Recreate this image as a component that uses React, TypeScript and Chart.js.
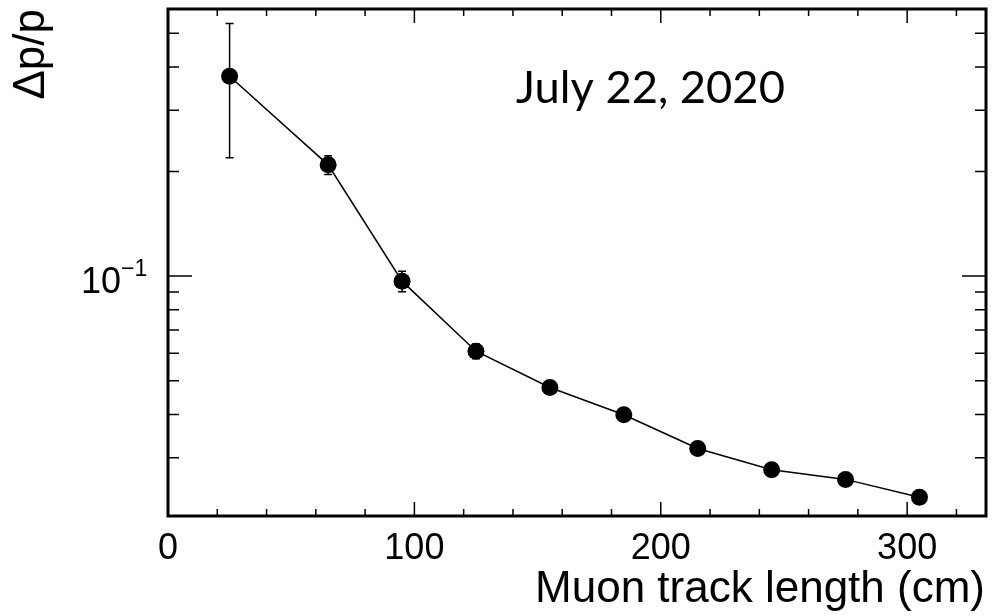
import React, { useEffect, useRef } from 'react';
import { Chart, registerables } from 'chart.js';

Chart.register(...registerables);

// ---- data ----
const trackLength = [25, 65, 95, 125, 155, 185, 215, 245, 275, 305];
const resolution = [0.376, 0.209, 0.0967, 0.0608, 0.0478, 0.0399, 0.0319, 0.0277, 0.026, 0.0231];
const resolutionErr = [0.157, 0.013, 0.0065, 0.003, 0.002, 0.0015, 0.001, 0.001, 0.001, 0.001];

const xMajorTicks = [0, 100, 200, 300];
const xMinorTicks = [20, 40, 60, 80, 120, 140, 160, 180, 220, 240, 260, 280, 320];
const yMajorTicks = [0.1];
const yMinorTicks = [0.03, 0.04, 0.05, 0.06, 0.07, 0.08, 0.09, 0.2, 0.3, 0.4, 0.5];
const xRange = [0, 332];
const yRange = [0.0204, 0.587];

const xTitle = 'Muon track length (cm)';
const yTitle = 'Δp/p';
const annotation = 'July 22, 2020';

const AXIS_FONT = '"Liberation Sans", Arial, Helvetica, sans-serif';

const errorBarPlugin = {
  id: 'errorBars',
  beforeDatasetsDraw(chart: any) {
    const { ctx, scales } = chart;
    const x = scales.x;
    const y = scales.y;
    ctx.save();
    ctx.strokeStyle = '#000';
    ctx.lineWidth = 1.5;
    trackLength.forEach((tx, i) => {
      const px = x.getPixelForValue(tx);
      const hi = y.getPixelForValue(resolution[i] + resolutionErr[i]);
      const lo = y.getPixelForValue(resolution[i] - resolutionErr[i]);
      ctx.beginPath();
      ctx.moveTo(px, hi);
      ctx.lineTo(px, lo);
      ctx.moveTo(px - 4, hi);
      ctx.lineTo(px + 4, hi);
      ctx.moveTo(px - 4, lo);
      ctx.lineTo(px + 4, lo);
      ctx.stroke();
    });
    ctx.restore();
  },
};

const framePlugin = {
  id: 'rootFrame',
  afterDraw(chart: any) {
    const { ctx, chartArea: a, scales } = chart;
    const x = scales.x;
    const y = scales.y;
    ctx.save();
    // ticks
    ctx.strokeStyle = '#000';
    ctx.lineWidth = 1.5;
    ctx.beginPath();
    const xt = (v: number, len: number) => {
      const px = x.getPixelForValue(v);
      ctx.moveTo(px, a.bottom);
      ctx.lineTo(px, a.bottom - len);
      ctx.moveTo(px, a.top);
      ctx.lineTo(px, a.top + len);
    };
    xMajorTicks.forEach((v) => xt(v, 14));
    xMinorTicks.forEach((v) => xt(v, 7));
    const yt = (v: number, len: number) => {
      const py = y.getPixelForValue(v);
      ctx.moveTo(a.left, py);
      ctx.lineTo(a.left + len, py);
      ctx.moveTo(a.right, py);
      ctx.lineTo(a.right - len, py);
    };
    yMajorTicks.forEach((v) => yt(v, 24));
    yMinorTicks.forEach((v) => yt(v, 11));
    ctx.stroke();

    // frame
    ctx.lineWidth = 3;
    ctx.strokeRect(a.left, a.top, a.right - a.left, a.bottom - a.top);

    // x tick labels
    ctx.fillStyle = '#000';
    ctx.font = `36px ${AXIS_FONT}`;
    ctx.textAlign = 'center';
    ctx.textBaseline = 'alphabetic';
    xMajorTicks.forEach((v) => {
      ctx.fillText(String(v), x.getPixelForValue(v), 559);
    });

    // y tick labels (10^-1)
    yMajorTicks.forEach((v) => {
      const py = y.getPixelForValue(v);
      const exp = Math.round(Math.log10(v));
      ctx.font = `36px ${AXIS_FONT}`;
      ctx.textAlign = 'left';
      const w10 = ctx.measureText('10').width;
      ctx.fillText('10', 81, py + 16.5);
      ctx.font = `23px ${AXIS_FONT}`;
      ctx.fillText(exp < 0 ? '\u2212' + String(-exp) : String(exp), 81 + w10, py);
    });

    // axis titles
    ctx.font = `44px ${AXIS_FONT}`;
    ctx.textAlign = 'right';
    ctx.fillText(xTitle, 985, 602);

    ctx.save();
    ctx.translate(44, 9);
    ctx.rotate(-Math.PI / 2);
    ctx.textAlign = 'right';
    ctx.fillText(yTitle, 0, 0);
    ctx.restore();

    // annotation
    const target = 269;
    ctx.font = `44px Lato, "Open Sans", sans-serif`;
    const w = ctx.measureText(annotation).width;
    const size = 44 * (target / w);
    ctx.font = `${size.toFixed(2)}px Lato, "Open Sans", sans-serif`;
    ctx.textAlign = 'left';
    ctx.fillText(annotation, 516, 103);

    ctx.restore();
  },
};

export default function App() {
  const canvasRef = useRef<HTMLCanvasElement | null>(null);

  useEffect(() => {
    if (!canvasRef.current) return;
    const chart = new Chart(canvasRef.current, {
      type: 'line',
      data: {
        datasets: [
          {
            label: yTitle,
            data: trackLength.map((v, i) => ({ x: v, y: resolution[i] })),
            borderColor: '#000',
            borderWidth: 1.5,
            backgroundColor: '#000',
            pointRadius: 8.5,
            pointHoverRadius: 8.5,
            pointBackgroundColor: '#000',
            pointBorderWidth: 0,
            tension: 0,
            fill: false,
            clip: false as any,
          },
        ],
      },
      options: {
        animation: false,
        responsive: false,
        devicePixelRatio: 1,
        events: [],
        layout: { padding: { left: 168, right: 21, top: 9, bottom: 100 } },
        scales: {
          x: { type: 'linear', min: xRange[0], max: xRange[1], display: false },
          y: { type: 'logarithmic', min: yRange[0], max: yRange[1], display: false },
        },
        plugins: {
          legend: { display: false },
          tooltip: { enabled: false },
        },
      },
      plugins: [errorBarPlugin, framePlugin],
    });
    return () => chart.destroy();
  }, []);

  return (
    <div style={{ position: 'fixed', left: 0, top: 0, width: 1007, height: 616, background: '#fff' }}>
      <canvas ref={canvasRef} width={1007} height={616} style={{ display: 'block', width: 1007, height: 616 }} />
    </div>
  );
}
